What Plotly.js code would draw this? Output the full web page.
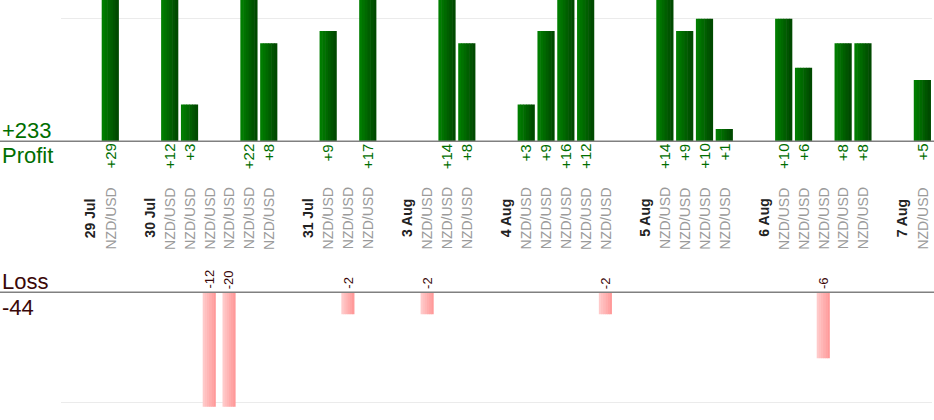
<!DOCTYPE html>
<html>
<head>
<meta charset="utf-8">
<script src="https://cdn.plot.ly/plotly-3.0.1.min.js"></script>
<style>
  html, body { margin: 0; padding: 0; background: #fff; }
  #chart { width: 934px; height: 420px; }
</style>
</head>
<body>
<div id="chart"></div>
<script>
// trading days and the result (pips) of each NZD/USD trade on that day
var days = ['29 Jul', '30 Jul', '31 Jul', '3 Aug', '4 Aug', '5 Aug', '6 Aug', '7 Aug'];
var dayTrades = [
    [29],
    [12, 3, -12, -20, 22, 8],
    [9, -2, 17],
    [-2, 14, 8],
    [3, 9, 16, 12, -2],
    [14, 9, 10, 1],
    [10, 6, -6, 8, 8],
    [5]
];
var pair = 'NZD/USD';

var H = 420;
function py(px) { return 1 - px / H; }

// lay the trades out in slots: blank, date, trades... for every day
var dateX = [], tradeX = [], profitX = [], profitY = [], lossX = [], lossY = [];
var s = -1;
days.forEach(function (day, k) {
    s += 2;
    dateX.push(s);
    dayTrades[k].forEach(function (v) {
        s += 1;
        tradeX.push(s);
        if (v > 0) { profitX.push(s); profitY.push(v); }
        else { lossX.push(s); lossY.push(v); }
    });
});
var nSlots = s + 1;

var totalProfit = profitY.reduce(function (a, b) { return a + b; }, 0);
var totalLoss = lossY.reduce(function (a, b) { return a + b; }, 0);

var GREEN = '#006e00';
var LOSSTXT = '#3a0808';

// bars drawn as a few vertical strips to get the shaded look
function stripes(x, y, width, c0, c1, xa, ya) {
    var n = 6, out = [];
    function mix(a, b, t) {
        var pa = [1, 3, 5].map(function (i) { return parseInt(a.substr(i, 2), 16); });
        var pb = [1, 3, 5].map(function (i) { return parseInt(b.substr(i, 2), 16); });
        return 'rgb(' + pa.map(function (v, i) { return Math.round(v + (pb[i] - v) * t); }).join(',') + ')';
    }
    for (var k = 0; k < n; k++) {
        out.push({
            type: 'bar', x: x, y: y, xaxis: xa, yaxis: ya,
            width: width / n * 1.2,
            offset: -width / 2 + k * width / n,
            marker: { color: mix(c0, c1, k / (n - 1)), line: { width: 0 } },
            hoverinfo: 'skip', showlegend: false
        });
    }
    return out;
}

var data = []
    .concat(stripes(profitX, profitY, 0.84, '#007d00', '#004a00', 'x', 'y'))
    .concat(stripes(lossX, lossY, 0.64, '#ffcaca', '#ff9a9a', 'x2', 'y2'));

var annotations = [];
dateX.forEach(function (x, k) {
    annotations.push({
        x: x, xref: 'x', y: py(218), yref: 'paper', yanchor: 'middle',
        text: '<b>' + days[k] + '</b>', textangle: -90, showarrow: false,
        font: { family: 'Liberation Sans, Arial', size: 14, color: '#222' }
    });
});
tradeX.forEach(function (x) {
    annotations.push({
        x: x, xref: 'x', y: py(218.5), yref: 'paper', yanchor: 'middle',
        text: pair, textangle: -90, showarrow: false,
        font: { family: 'Liberation Sans, Arial', size: 14, color: '#9a9a9a' }
    });
});
profitX.forEach(function (x, k) {
    annotations.push({
        x: x, xref: 'x', y: py(142), yref: 'paper', yanchor: 'top',
        text: '+' + profitY[k], textangle: -90, showarrow: false,
        font: { family: 'Liberation Sans, Arial', size: 15, color: GREEN }
    });
});
lossX.forEach(function (x, k) {
    annotations.push({
        x: x, xref: 'x2', y: py(291), yref: 'paper', yanchor: 'bottom',
        text: String(lossY[k]), textangle: -90, showarrow: false,
        font: { family: 'Liberation Sans, Arial', size: 13, color: LOSSTXT }
    });
});

function sideLabel(text, ypx, anchor, color) {
    return {
        x: 0, xref: 'paper', xanchor: 'left', y: py(ypx), yref: 'paper', yanchor: anchor,
        text: text, showarrow: false, xshift: 0,
        font: { family: 'Liberation Sans, Arial', size: 22, color: color }
    };
}
annotations.push(sideLabel('+' + totalProfit, 145, 'bottom', GREEN));
annotations.push(sideLabel('Profit', 141, 'top', GREEN));
annotations.push(sideLabel('Loss', 296, 'bottom', LOSSTXT));
annotations.push(sideLabel(String(totalLoss), 293, 'top', LOSSTXT));

var xdom = [60.5 / 934, 932 / 934];
var layout = {
    width: 934, height: H,
    margin: { l: 0, r: 0, t: 0, b: 0 },
    paper_bgcolor: '#fff', plot_bgcolor: 'rgba(0,0,0,0)',
    barmode: 'overlay', showlegend: false,
    font: { family: 'Liberation Sans, Arial' },
    xaxis: { domain: xdom, range: [-0.5, nSlots - 0.5], showticklabels: false, showgrid: false, zeroline: false, fixedrange: true },
    xaxis2: { domain: xdom, range: [-0.5, nSlots - 0.5], showticklabels: false, showgrid: false, zeroline: false, anchor: 'y2', fixedrange: true },
    yaxis: { domain: [py(141.3), 1], range: [0, 11.52], tickvals: [10], showticklabels: false, gridcolor: '#ebebeb', zeroline: false, fixedrange: true },
    yaxis2: { domain: [py(406.7), py(292.3)], range: [-10.4, 0], tickvals: [-10], showticklabels: false, gridcolor: '#ebebeb', zeroline: false, fixedrange: true },
    shapes: [
        { type: 'line', xref: 'paper', yref: 'paper', x0: 0, x1: 1, y0: py(141.3), y1: py(141.3), line: { color: '#808080', width: 1.5 } },
        { type: 'line', xref: 'paper', yref: 'paper', x0: 0, x1: 1, y0: py(292.3), y1: py(292.3), line: { color: '#808080', width: 1.5 } }
    ],
    annotations: annotations
};

Plotly.newPlot('chart', data, layout, { displayModeBar: false, staticPlot: true });
</script>
</body>
</html>
